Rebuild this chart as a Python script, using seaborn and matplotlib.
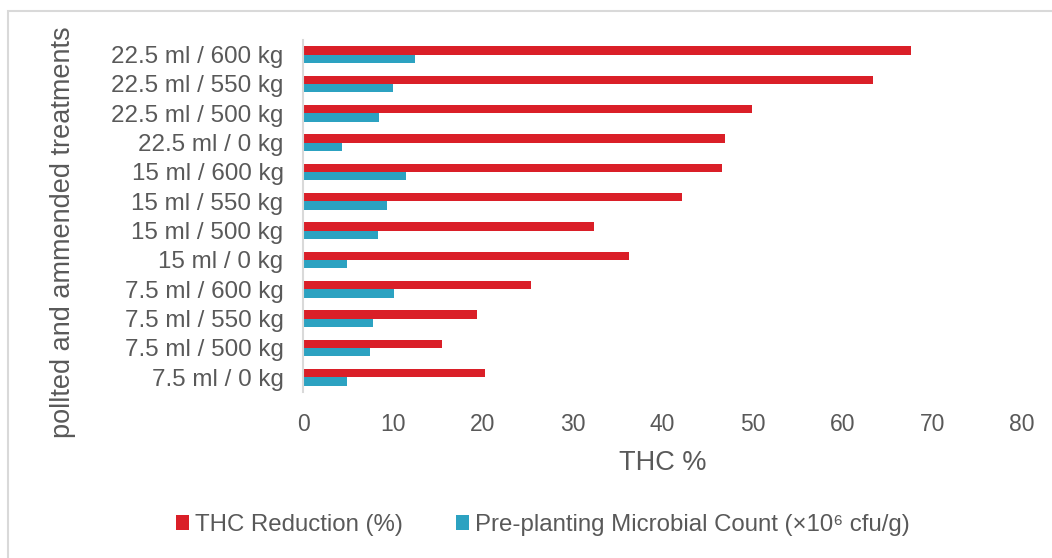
import matplotlib
matplotlib.use("Agg")
import matplotlib.pyplot as plt
import seaborn as sns
import pandas as pd
import numpy as np
from matplotlib.patches import Rectangle, Patch

treatments = ["22.5 ml / 600 kg", "22.5 ml / 550 kg", "22.5 ml / 500 kg", "22.5 ml / 0 kg",
              "15 ml / 600 kg", "15 ml / 550 kg", "15 ml / 500 kg", "15 ml / 0 kg",
              "7.5 ml / 600 kg", "7.5 ml / 550 kg", "7.5 ml / 500 kg", "7.5 ml / 0 kg"]
thc_reduction = [67.7, 63.4, 50.0, 46.9, 46.6, 42.2, 32.4, 36.3, 25.4, 19.4, 15.5, 20.2]
microbial_count = [12.5, 10.0, 8.5, 4.3, 11.5, 9.4, 8.4, 4.9, 10.1, 7.8, 7.4, 4.9]
series_names = ["THC Reduction (%)", "Pre-planting Microbial Count (\u00d710\u2076 cfu/g)"]
x_ticks = [0, 10, 20, 30, 40, 50, 60, 70, 80]

df = pd.DataFrame({
    "treatment": treatments * 2,
    "value": thc_reduction + microbial_count,
    "series": [series_names[0]] * len(treatments) + [series_names[1]] * len(treatments),
})

sns.set_theme(style="white")
plt.rcParams["font.family"] = ["Liberation Sans", "DejaVu Sans"]
text_color = "#595959"
colors = ["#DA1F28", "#2CA2C1"]

fig = plt.figure(figsize=(10.52, 5.58), dpi=100)
ax = fig.add_axes([303 / 1052, 1 - 392 / 558, (1022 - 303) / 1052, (392 - 40) / 558])

sns.barplot(data=df, y="treatment", x="value", hue="series", order=treatments,
            hue_order=series_names, palette=colors, orient="h", width=0.56,
            saturation=1, linewidth=0, ax=ax, legend=False)

ax.set_xlim(0, 80)
ax.set_ylim(len(treatments) - 0.5, -0.5)
ax.set_xticks(x_ticks)
ax.set_xticklabels([str(t) for t in x_ticks], fontsize=16.5, color=text_color)
ax.set_yticks(np.arange(len(treatments)))
ax.set_yticklabels(treatments, fontsize=17.4, color=text_color)
ax.set_yticks(np.arange(len(treatments) + 1) - 0.5, minor=True)
ax.tick_params(axis="y", which="major", length=0, pad=14)
ax.tick_params(axis="y", which="minor", length=6, width=1.2, color="#D9D9D9", direction="out")
ax.tick_params(axis="x", which="major", length=0, pad=15)

ax.set_xlabel("THC %", fontsize=19.5, color=text_color, labelpad=10)
ax.set_ylabel("pollted and ammended treatments", fontsize=19.5, color=text_color)
ax.yaxis.set_label_coords(-0.316, 0.455)

for s in ["top", "right", "bottom"]:
    ax.spines[s].set_visible(False)
ax.spines["left"].set_color("#D9D9D9")
ax.spines["left"].set_linewidth(1.5)

handles = [Patch(facecolor=c, edgecolor="none") for c in colors]
fig.legend(handles, series_names, loc="center", bbox_to_anchor=(0.5157, 1 - 525 / 558),
           ncol=2, frameon=False, fontsize=17.3, handlelength=0.55, handleheight=0.55,
           handletextpad=0.25, columnspacing=2.2, labelcolor=text_color)

fig.patches.append(Rectangle((8 / 1052, -0.02), 1.05, 1 - 11 / 558 + 0.02,
                             transform=fig.transFigure, fill=False,
                             edgecolor="#D9D9D9", linewidth=1.5))

fig.savefig("out.png", dpi=100)
